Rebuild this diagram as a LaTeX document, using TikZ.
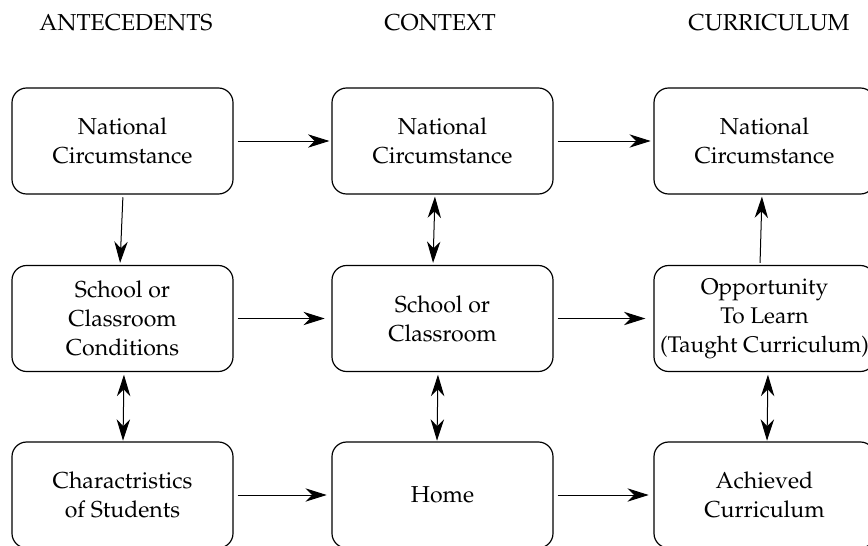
\documentclass[tikz,border=0pt]{standalone}
\usepackage[T1]{fontenc}
\usepackage{mathpazo}
\usetikzlibrary{arrows.meta,calc}
\tikzset{
    box/.style={draw, line width=0.9pt, rounded corners=11pt, align=center,
        minimum width=165.75pt, minimum height=79.5pt, inner sep=0pt},
    head/.style={inner sep=0pt},
    link/.style={line width=0.75pt, -{Stealth[length=16pt,width=10pt,inset=5pt]}},
    twoway/.style={line width=0.75pt, {Stealth[length=16pt,width=10pt,inset=5pt]}-{Stealth[length=16pt,width=10pt,inset=5pt]}}
}
\begin{document}
\begin{tikzpicture}[x=0.75pt, y=-0.75pt, font=\fontsize{17.3}{21.75}\selectfont]
        \useasboundingbox (0,0) rectangle (868,546);
        %headers
        \node[head] (hant) at (126,23) {ANTECEDENTS};
        \node[head] (hctx) at (440,23) {CONTEXT};
        \node[head] (hcur) at (769,23) {CURRICULUM};
        %boxes
        \node[box] (ant1) at (122.5,141) {National\\Circumstance};
        \node[box] (ctx1) at (442.5,141) {National\\Circumstance};
        \node[box] (cur1) at (764.5,141) {National\\Circumstance};
        \node[box] (ant2) at (122.5,318.5) {School or\\Classroom\\Conditions};
        \node[box] (ctx2) at (442.5,318.5) {School or\\Classroom};
        \node[box, font=\fontsize{17}{21.75}\selectfont] (cur2) at (764.5,318.5) {Opportunity\\To Learn\\(Taught Curriculum)};
        \node[box] (ant3) at (122.5,495) {Charactristics\\of Students};
        \node[box] (ctx3) at (442.5,495) {Home};
        \node[box] (cur3) at (764.5,495) {Achieved\\Curriculum};
        %arrows
        \draw[link, shorten <=3pt, shorten >=1.5pt] (ant1.east) -- (ctx1.west);
        \draw[link, shorten <=3pt, shorten >=2pt] (ctx1.east) -- (cur1.west);
        \draw[link, shorten <=3pt, shorten >=5pt] (ant2.east) -- (ctx2.west);
        \draw[link, shorten <=3pt, shorten >=6pt] (ctx2.east) -- (cur2.west);
        \draw[link, shorten <=3pt, shorten >=3.5pt] (ant3.east) -- (ctx3.west);
        \draw[link, shorten <=3pt, shorten >=3.5pt] (ctx3.east) -- (cur3.west);
        \draw[link, shorten <=2pt, shorten >=1.5pt] ($(ant1.south)+(0.5,0)$) -- ($(ant2.north)+(-2.5,0)$);
        \draw[link, shorten <=1.5pt, shorten >=1.5pt] ($(cur2.north)+(-4.5,0)$) -- ($(cur1.south)+(-2.5,0)$);
        \draw[twoway, shorten <=1.5pt, shorten >=1.5pt] ($(ctx1.south)+(-7.5,0)$) -- ($(ctx2.north)+(-9.5,0)$);
        \draw[twoway, shorten <=2pt, shorten >=0.5pt] ($(ant2.south)+(1.5,0)$) -- ($(ant3.north)+(0.5,0)$);
        \draw[twoway, shorten <=2pt, shorten >=0.5pt] ($(ctx2.south)+(-4.5,0)$) -- ($(ctx3.north)+(-5.5,0)$);
        \draw[twoway, shorten <=2pt, shorten >=0.5pt] ($(cur2.south)+(3.5,0)$) -- ($(cur3.north)+(2.5,0)$);
    \end{tikzpicture}
\end{document}
